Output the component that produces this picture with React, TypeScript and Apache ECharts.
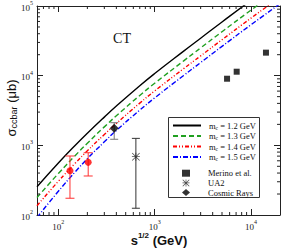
import React, { useEffect, useRef } from 'react';
import * as echarts from 'echarts';

// Theory curves (sqrt(s) in GeV, sigma in microbarn)
const energies = [60, 100, 150, 200, 300, 400, 700, 1000, 2000, 3000, 5000, 10000, 20000];
const sigmaMc12 = [254, 557, 1002, 1489, 2541, 3664, 7178, 10740, 22540, 34510, 59020, 120500, 241000];
const sigmaMc13 = [178, 394, 716, 1072, 1841, 2655, 5200, 7780, 16330, 25000, 42760, 87300, 174600];
const sigmaMc14 = [136, 305, 556, 834, 1429, 2061, 4036, 6039, 12620, 19230, 32810, 66990, 134000];
const sigmaMc15 = [92, 219, 418, 643, 1122, 1637, 3206, 4797, 10070, 15420, 26360, 53830, 107700];

// Data points
const rhicEnergy = [132, 204];
const rhicSigma = [432, 570];
const rhicLow = [174, 363];
const rhicHigh = [703, 783];

const merinoEnergy = [5640, 7100, 14300];
const merinoSigma = [9040, 11400, 21400];

const ua2Energy = [638];
const ua2Sigma = [687];
const ua2Low = [125];
const ua2High = [1259];

const cosmicEnergy = [380];
const cosmicSigma = [1754];
const cosmicLow = [1222];
const cosmicHigh = [2113];

const xMin = 60;
const xMax = 20000;
const yMin = 100;
const yMax = 100000;

const lineNames = ['m_c = 1.2 GeV', 'm_c = 1.3 GeV', 'm_c = 1.4 GeV', 'm_c = 1.5 GeV'];
const pointNames = ['Merino et al.', 'UA2', 'Cosmic Rays'];

const SERIF = '"Liberation Serif", "Times New Roman", Times, serif';
const SANS = '"Liberation Sans", Arial, Helvetica, sans-serif';
const AXIS = '#222';

function minorValues(lo: number, hi: number): number[] {
  const out: number[] = [];
  for (let k = 0; k <= 6; k++) {
    for (let m = 2; m <= 9; m++) {
      const v = m * Math.pow(10, k);
      if (v > lo * 1.0001 && v < hi * 0.9999) out.push(v);
    }
  }
  return out;
}

const ASTERISK =
  'path://M4.5 0 H5.5 V10 H4.5 Z M0 4.5 H10 V5.5 H0 Z M0.7 0 L10 9.3 L9.3 10 L0 0.7 Z M9.3 0 L10 0.7 L0.7 10 L0 9.3 Z';

export default function App() {
  const ref = useRef<HTMLDivElement>(null);
  useEffect(() => {
    document.body.style.margin = '0';
    if (!ref.current) return;
    const chart = echarts.init(ref.current, undefined, { renderer: 'svg' });

    const labelFormatter = (v: number) => {
      const l = Math.log10(v);
      const e = Math.round(l);
      if (Math.abs(l - e) > 1e-6) return '';
      return `{b|10}{e|${e}}`;
    };
    const labelRich = {
      b: { fontSize: 9, fontFamily: SERIF, color: AXIS, lineHeight: 12, verticalAlign: 'bottom' },
      e: { fontSize: 6, fontFamily: SERIF, color: AXIS, verticalAlign: 'top' },
    };

    const axisCommon = {
      type: 'log',
      logBase: 10,
      axisLine: { show: true, lineStyle: { color: AXIS, width: 1 } },
      axisTick: { show: true, inside: true, length: 6, lineStyle: { color: AXIS, width: 1 } },
      splitLine: { show: false },
      minorTick: { show: false },
    };

    const errorBarRender = (color: string, cap: number) => (params: any, api: any) => {
      const x = api.value(0);
      const lo = api.coord([x, api.value(1)]);
      const hi = api.coord([x, api.value(2)]);
      const style = { stroke: color, lineWidth: 1 };
      return {
        type: 'group',
        children: [
          { type: 'line', shape: { x1: lo[0], y1: lo[1], x2: hi[0], y2: hi[1] }, style },
          { type: 'line', shape: { x1: lo[0] - cap, y1: lo[1], x2: lo[0] + cap, y2: lo[1] }, style },
          { type: 'line', shape: { x1: hi[0] - cap, y1: hi[1], x2: hi[0] + cap, y2: hi[1] }, style },
        ],
      };
    };

    const minorX = minorValues(xMin, xMax);
    const minorY = minorValues(yMin, yMax);

    const lineSeries = (name: string, data: number[], color: string, type: any) => ({
      name,
      type: 'line',
      data: energies.map((e, i) => [e, data[i]]),
      symbol: 'none',
      smooth: 0.5,
      clip: true,
      lineStyle: { color, width: 1.4, type },
      itemStyle: { color },
      z: 3,
    });

    const richLegend = {
      t: { fontSize: 8.5, fontFamily: SERIF, color: '#111', lineHeight: 10, verticalAlign: 'middle' },
      s: { fontSize: 5.5, fontFamily: SERIF, color: '#111', verticalAlign: 'bottom' },
    };

    chart.setOption({
      animation: false,
      grid: { left: 37, top: 6, right: 5, bottom: 33, containLabel: false },
      xAxis: [
        {
          ...axisCommon,
          min: xMin,
          max: xMax,
          position: 'bottom',
          axisLabel: { show: true, margin: 4, formatter: labelFormatter, rich: labelRich, showMinLabel: true, showMaxLabel: true },
        },
        {
          ...axisCommon,
          min: xMin,
          max: xMax,
          position: 'top',
          axisLabel: { show: false },
        },
      ],
      yAxis: [
        {
          ...axisCommon,
          min: yMin,
          max: yMax,
          position: 'left',
          axisLabel: { show: true, margin: 4, formatter: labelFormatter, rich: labelRich },
        },
        {
          ...axisCommon,
          min: yMin,
          max: yMax,
          position: 'right',
          axisLabel: { show: false },
        },
      ],
      legend: [
        {
          orient: 'vertical',
          left: 172,
          top: 121,
          itemWidth: 28,
          itemHeight: 10,
          itemGap: 1,
          padding: 0,
          data: lineNames,
          selectedMode: false,
          itemStyle: { opacity: 0 },
          formatter: (name: string) => `{t|m}{s|c}{t| = ${name.split('= ')[1]}}`,
          textStyle: { rich: richLegend, padding: [0, 0, 0, 3] },
          z: 10,
        },
        {
          orient: 'vertical',
          left: 182,
          top: 168.7,
          itemWidth: 8,
          itemHeight: 7,
          itemGap: 0.7,
          padding: 0,
          data: pointNames,
          selectedMode: false,
          textStyle: { fontSize: 8.5, fontFamily: SERIF, color: '#111', lineHeight: 8, padding: [0, 0, 0, 13] },
          z: 10,
        },
      ],
      graphic: [
        {
          type: 'rect',
          shape: { x: 168.5, y: 117.5, width: 91, height: 80 },
          style: { fill: '#fff', stroke: '#333', lineWidth: 1 },
          z: 5,
        },
        {
          type: 'text',
          x: 122,
          y: 38,
          style: {
            text: 'CT',
            fontSize: 14,
            fontFamily: SERIF,
            fill: '#111',
            align: 'center',
            verticalAlign: 'middle',
            textAlign: 'center',
            textVerticalAlign: 'middle',
          },
          z: 10,
        },
        {
          type: 'text',
          x: 11,
          y: 108,
          rotation: Math.PI / 2,
          style: {
            text: '{a|σ}{b|ccbar}{a| (μb)}',
            rich: {
              a: { fontSize: 13, fontFamily: SANS, fill: '#111', color: '#111', lineHeight: 15, verticalAlign: 'middle' },
              b: { fontSize: 9, fontFamily: SANS, fill: '#111', color: '#111', verticalAlign: 'bottom' },
            },
            fill: '#111',
            align: 'center',
            verticalAlign: 'middle',
            textAlign: 'center',
            textVerticalAlign: 'middle',
          },
          z: 10,
        },
        {
          type: 'text',
          x: 159,
          y: 239,
          style: {
            text: '{s|s}{e|1/2}{g| (GeV)}',
            rich: {
              s: { fontSize: 13, fontWeight: 'bold', fontFamily: SANS, fill: '#111', color: '#111', lineHeight: 15, verticalAlign: 'bottom' },
              e: { fontSize: 8, fontWeight: 'bold', fontFamily: SANS, fill: '#111', color: '#111', verticalAlign: 'top' },
              g: { fontSize: 13, fontWeight: 'bold', fontFamily: SANS, fill: '#111', color: '#111', lineHeight: 15, verticalAlign: 'bottom' },
            },
            fill: '#111',
            align: 'center',
            verticalAlign: 'middle',
            textAlign: 'center',
            textVerticalAlign: 'middle',
          },
          z: 10,
        },
      ],
      series: [
        lineSeries(lineNames[0], sigmaMc12, '#000000', 'solid'),
        lineSeries(lineNames[1], sigmaMc13, '#20a020', [5, 3]),
        lineSeries(lineNames[2], sigmaMc14, '#ff0000', [4, 2, 1, 2, 1, 2]),
        lineSeries(lineNames[3], sigmaMc15, '#0000ff', [5, 2, 1, 2]),
        {
          name: 'minorX',
          type: 'custom',
          silent: true,
          clip: false,
          data: minorX.map((v) => [v, 1000]),
          renderItem: (params: any, api: any) => {
            const p = api.coord([api.value(0), 1000]);
            const cs = params.coordSys;
            const st = { stroke: AXIS, lineWidth: 1 };
            return {
              type: 'group',
              children: [
                { type: 'line', shape: { x1: p[0], y1: cs.y + cs.height, x2: p[0], y2: cs.y + cs.height - 3 }, style: st },
                { type: 'line', shape: { x1: p[0], y1: cs.y, x2: p[0], y2: cs.y + 3 }, style: st },
              ],
            };
          },
          z: 4,
        },
        {
          name: 'minorY',
          type: 'custom',
          silent: true,
          clip: false,
          data: minorY.map((v) => [1000, v]),
          renderItem: (params: any, api: any) => {
            const p = api.coord([1000, api.value(1)]);
            const cs = params.coordSys;
            const st = { stroke: AXIS, lineWidth: 1 };
            return {
              type: 'group',
              children: [
                { type: 'line', shape: { x1: cs.x, y1: p[1], x2: cs.x + 3, y2: p[1] }, style: st },
                { type: 'line', shape: { x1: cs.x + cs.width, y1: p[1], x2: cs.x + cs.width - 3, y2: p[1] }, style: st },
              ],
            };
          },
          z: 4,
        },
        {
          name: 'rhicErr',
          type: 'custom',
          silent: true,
          data: rhicEnergy.map((e, i) => [e, rhicLow[i], rhicHigh[i]]),
          renderItem: errorBarRender('#ff3030', 4.5),
          z: 5,
        },
        {
          name: 'ua2Err',
          type: 'custom',
          silent: true,
          data: ua2Energy.map((e, i) => [e, ua2Low[i], ua2High[i]]),
          renderItem: errorBarRender('#333', 4),
          z: 5,
        },
        {
          name: 'cosmicErr',
          type: 'custom',
          silent: true,
          data: cosmicEnergy.map((e, i) => [e, cosmicLow[i], cosmicHigh[i]]),
          renderItem: errorBarRender('#777', 4),
          z: 5,
        },
        {
          name: 'RHIC',
          type: 'scatter',
          data: rhicEnergy.map((e, i) => [e, rhicSigma[i]]),
          symbol: 'circle',
          symbolSize: 7,
          itemStyle: { color: '#ff0000' },
          z: 6,
        },
        {
          name: pointNames[0],
          type: 'scatter',
          data: merinoEnergy.map((e, i) => [e, merinoSigma[i]]),
          symbol: 'rect',
          symbolSize: 6,
          itemStyle: { color: '#000' },
          z: 6,
        },
        {
          name: pointNames[1],
          type: 'scatter',
          data: ua2Energy.map((e, i) => [e, ua2Sigma[i]]),
          symbol: ASTERISK,
          symbolSize: 8,
          itemStyle: { color: '#222' },
          z: 6,
        },
        {
          name: pointNames[2],
          type: 'scatter',
          data: cosmicEnergy.map((e, i) => [e, cosmicSigma[i]]),
          symbol: 'diamond',
          symbolSize: 9,
          itemStyle: { color: '#000' },
          z: 6,
        },
      ],
    });
    return () => chart.dispose();
  }, []);
  return <div ref={ref} style={{ width: 285, height: 248 }} />;
}
